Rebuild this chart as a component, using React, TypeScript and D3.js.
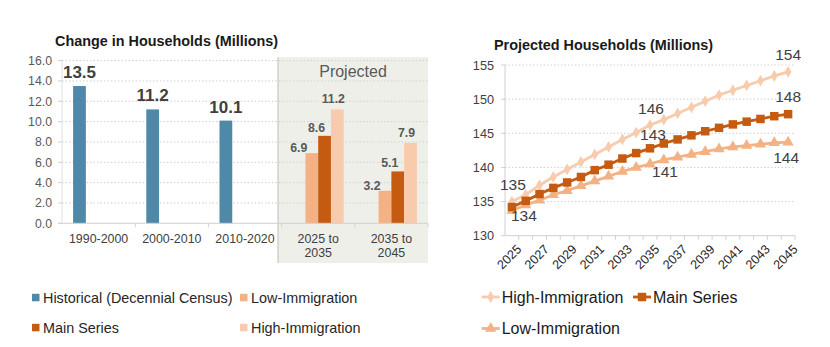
import React from "react";
import * as d3 from "d3";

// ---------- Left chart data ----------
const categories = ["1990-2000", "2000-2010", "2010-2020", "2025 to 2035", "2035 to 2045"];
const barSeries = ["Historical (Decennial Census)", "Low-Immigration", "Main Series", "High-Immigration"];
const historical = [13.5, 11.2, 10.1, null, null];
const lowChange = [null, null, null, 6.9, 3.2];
const mainChange = [null, null, null, 8.6, 5.1];
const highChange = [null, null, null, 11.2, 7.9];
const leftTicks = [0, 2, 4, 6, 8, 10, 12, 14, 16];

// ---------- Right chart data ----------
const years = [2025, 2026, 2027, 2028, 2029, 2030, 2031, 2032, 2033, 2034, 2035, 2036, 2037, 2038, 2039, 2040, 2041, 2042, 2043, 2044, 2045];
const highSeries = [135.0, 136.0, 137.4, 138.6, 139.7, 140.8, 141.9, 143.0, 144.1, 145.1, 146.2, 147.0, 147.9, 148.8, 149.7, 150.6, 151.3, 152.0, 152.7, 153.4, 154.0];
const mainSeries = [134.2, 135.1, 136.1, 137.0, 137.8, 138.6, 139.6, 140.4, 141.3, 142.1, 142.8, 143.5, 144.1, 144.7, 145.3, 145.8, 146.3, 146.7, 147.1, 147.5, 147.8];
const lowSeries = [133.7, 134.5, 135.2, 136.0, 136.6, 137.3, 138.0, 138.7, 139.4, 140.0, 140.5, 141.1, 141.5, 141.9, 142.3, 142.7, 143.0, 143.2, 143.4, 143.6, 143.7];
const rightTicks = [130, 135, 140, 145, 150, 155];
const yearLabels = [2025, 2027, 2029, 2031, 2033, 2035, 2037, 2039, 2041, 2043, 2045];
const annotations = [
  { series: "high", year: 2025, text: "135" },
  { series: "low", year: 2025, text: "134" },
  { series: "high", year: 2035, text: "146" },
  { series: "main", year: 2035, text: "143" },
  { series: "low", year: 2035, text: "141" },
  { series: "high", year: 2045, text: "154" },
  { series: "main", year: 2045, text: "148" },
  { series: "low", year: 2045, text: "144" },
];

// ---------- styles ----------
const FONT = "'Liberation Sans', Arial, sans-serif";
const C_HIST = "#4e89a7";
const C_LOW = "#f4b183";
const C_MAIN = "#c55a11";
const C_HIGH = "#f8cbad";
const barColors = [C_HIST, C_LOW, C_MAIN, C_HIGH];
// label nudges (styling) per bar series index: [dx, dy]
const barLabelNudge = [[0, -8], [-13, -1], [-8, -4], [-4, -6]];
// annotation nudges (styling) per annotation index: [dx, dy]
const annNudge = [[1, -12], [12, 11], [1, -11], [3, -8], [15, 13], [0, -12], [0, -12], [-2, 21]];

export default function App() {
  // Left chart scales
  const x0 = d3.scaleBand<string>().domain(categories).range([62, 428]).paddingInner(0).paddingOuter(0);
  const x1 = d3.scaleBand<string>().domain(barSeries).range([0, x0.bandwidth()]).paddingInner(0).paddingOuter(0.87);
  const yL = d3.scaleLinear().domain([0, 16]).range([223.3, 60.6]);
  const barData = [historical, lowChange, mainChange, highChange];

  // Right chart scales
  const xR = d3.scaleBand<number>().domain(years).range([505, 795]);
  const yR = d3.scaleLinear().domain([130, 155]).range([235.7, 65]);
  const cx = (yr: number) => (xR(yr) as number) + xR.bandwidth() / 2;
  const lineGen = d3.line<number>().x((_, i) => cx(years[i])).y((d) => yR(d));
  const seriesMap: Record<string, number[]> = { high: highSeries, main: mainSeries, low: lowSeries };

  const sym = (type: d3.SymbolType, size: number) => d3.symbol().type(type).size(size)() as string;
  const diamond = sym(d3.symbolDiamond, 40);
  const square = sym(d3.symbolSquare, 72);
  const triangle = sym(d3.symbolTriangle, 55);

  const lineDefs = [
    { key: "high", data: highSeries, color: C_HIGH, marker: diamond },
    { key: "low", data: lowSeries, color: C_LOW, marker: triangle },
    { key: "main", data: mainSeries, color: C_MAIN, marker: square },
  ];

  const boxLeft = 278;
  const boxRight = 428;

  return (
    <svg width={830} height={347} style={{ position: "absolute", left: 0, top: 0, fontFamily: FONT }}>
      <rect x={0} y={0} width={830} height={347} fill="#ffffff" />
      {/* ===== LEFT CHART ===== */}
      <text x={55} y={46} fontSize={14.4} fontWeight="bold" fill="#1a1a1a">Change in Households (Millions)</text>
      {/* projected box */}
      <rect x={boxLeft} y={57} width={boxRight - boxLeft} height={206} fill="#efefe9" />
      <line x1={boxLeft} x2={boxLeft} y1={57} y2={263} stroke="#bdbdbd" strokeWidth={1} />
      {/* grid */}
      {leftTicks.map((t) => (
        <g key={"lg" + t}>
          {t > 0 && (
            <line x1={62} x2={boxRight} y1={yL(t)} y2={yL(t)} stroke="#d0d0d0" strokeWidth={1} strokeDasharray="1.5 2" />
          )}
          <line x1={58} x2={62} y1={yL(t)} y2={yL(t)} stroke="#d0d0d0" />
          <text x={52} y={yL(t) + 4.3} fontSize={12.3} fill="#595959" textAnchor="end">{t.toFixed(1)}</text>
        </g>
      ))}
      <line x1={62} x2={62} y1={yL(16)} y2={yL(0)} stroke="#e0e0e0" />
      <text x={(boxLeft + boxRight) / 2 - 0} y={77} fontSize={16} fill="#595959" textAnchor="middle">Projected</text>
      {/* bars */}
      {barData.map((arr, si) =>
        arr.map((v, ci) => {
          if (v == null) return null;
          const bx = (x0(categories[ci]) as number) + (x1(barSeries[si]) as number);
          const bw = x1.bandwidth();
          return <rect key={"b" + si + ci} x={bx} y={yL(v)} width={bw} height={yL(0) - yL(v)} fill={barColors[si]} />;
        })
      )}
      {/* bar labels */}
      {barData.map((arr, si) =>
        arr.map((v, ci) => {
          if (v == null) return null;
          const bx = (x0(categories[ci]) as number) + (x1(barSeries[si]) as number) + x1.bandwidth() / 2;
          const big = si === 0;
          return (
            <text key={"bl" + si + ci} x={bx + barLabelNudge[si][0]} y={yL(v) + barLabelNudge[si][1]} fontSize={big ? 17 : 12.3} fontWeight="bold" fill={big ? "#404040" : "#595959"} textAnchor="middle">
              {v.toFixed(1)}
            </text>
          );
        })
      )}
      {/* x axis */}
      <line x1={58} x2={boxRight} y1={yL(0)} y2={yL(0)} stroke="#d0d0d0" />
      {categories.map((c, i) => {
        const bx = x0(c) as number;
        return <line key={"lt" + i} x1={bx + x0.bandwidth()} x2={bx + x0.bandwidth()} y1={yL(0)} y2={yL(0) + 4} stroke="#d0d0d0" />;
      })}
      {categories.map((c, i) => {
        const cxx = (x0(c) as number) + x0.bandwidth() / 2;
        const parts = c.includes(" to ") ? [c.slice(0, c.indexOf(" to ") + 3), c.slice(c.indexOf(" to ") + 4)] : [c];
        return (
          <text key={"lc" + i} x={cxx} y={243.3} fontSize={12.4} fill="#404040" textAnchor="middle">
            {parts.map((p, j) => (
              <tspan key={j} x={cxx} dy={j === 0 ? 0 : 13.6}>{p}</tspan>
            ))}
          </text>
        );
      })}
      {/* left legend */}
      {[
        { name: barSeries[0], color: C_HIST, x: 32, y: 303.3 },
        { name: barSeries[1], color: C_LOW, x: 240, y: 303.3 },
        { name: barSeries[2], color: C_MAIN, x: 32, y: 333.3 },
        { name: barSeries[3], color: C_HIGH, x: 240, y: 333.3 },
      ].map((l) => (
        <g key={"ll" + l.name}>
          <rect x={l.x} y={l.y - 9.5} width={7.5} height={7.5} fill={l.color} />
          <text x={l.x + 11} y={l.y} fontSize={14.4} fill="#262626">{l.name}</text>
        </g>
      ))}

      {/* ===== RIGHT CHART ===== */}
      <text x={494} y={50} fontSize={14.4} fontWeight="bold" fill="#1a1a1a">Projected Households (Millions)</text>
      {rightTicks.map((t) => (
        <g key={"rg" + t}>
          {t > 130 && (
            <line x1={505} x2={795} y1={yR(t)} y2={yR(t)} stroke="#d0d0d0" strokeDasharray="1.5 2" />
          )}
          <line x1={501} x2={505} y1={yR(t)} y2={yR(t)} stroke="#d0d0d0" />
          <text x={494} y={yR(t) + 4.5} fontSize={12.7} fill="#404040" textAnchor="end">{t}</text>
        </g>
      ))}
      <line x1={505} x2={505} y1={yR(155)} y2={yR(130)} stroke="#d0d0d0" />
      <line x1={505} x2={795} y1={yR(130)} y2={yR(130)} stroke="#d0d0d0" />
      {years.map((yr) => (
        <line key={"rt" + yr} x1={(xR(yr) as number) + xR.bandwidth()} x2={(xR(yr) as number) + xR.bandwidth()} y1={yR(130)} y2={yR(130) + 4} stroke="#d0d0d0" />
      ))}
      {yearLabels.map((yr) => (
        <text key={"ry" + yr} transform={`translate(${cx(yr) + 4},${yR(130) + 8}) rotate(-45)`} fontSize={12.7} fill="#262626" textAnchor="end" dy="0.7em">
          {yr}
        </text>
      ))}
      {lineDefs.map((s) => (
        <g key={"ln" + s.key}>
          <path d={lineGen(s.data) as string} fill="none" stroke={s.color} strokeWidth={2.8} />
          {s.data.map((v, i) => (
            <path key={i} d={s.marker} transform={`translate(${cx(years[i])},${yR(v)})`} fill={s.color} />
          ))}
        </g>
      ))}
      {annotations.map((a, i) => {
        const idx = years.indexOf(a.year);
        const v = seriesMap[a.series][idx];
        return (
          <text key={"an" + i} x={cx(a.year) + annNudge[i][0]} y={yR(v) + annNudge[i][1]} fontSize={15.5} fill="#404040" textAnchor="middle">
            {a.text}
          </text>
        );
      })}
      {/* right legend */}
      {[
        { name: "High-Immigration", color: C_HIGH, marker: diamond, x: 481.7, y: 302.5 },
        { name: "Main Series", color: C_MAIN, marker: square, x: 633, y: 302.5 },
        { name: "Low-Immigration", color: C_LOW, marker: triangle, x: 481.7, y: 334 },
      ].map((l) => (
        <g key={"rl" + l.name}>
          <line x1={l.x} x2={l.x + 18} y1={l.y - 5.5} y2={l.y - 5.5} stroke={l.color} strokeWidth={2.8} />
          <path d={l.marker} transform={`translate(${l.x + 9},${l.y - 5.5})`} fill={l.color} />
          <text x={l.x + 20} y={l.y} fontSize={16} fill="#1a1a1a">{l.name}</text>
        </g>
      ))}
    </svg>
  );
}
